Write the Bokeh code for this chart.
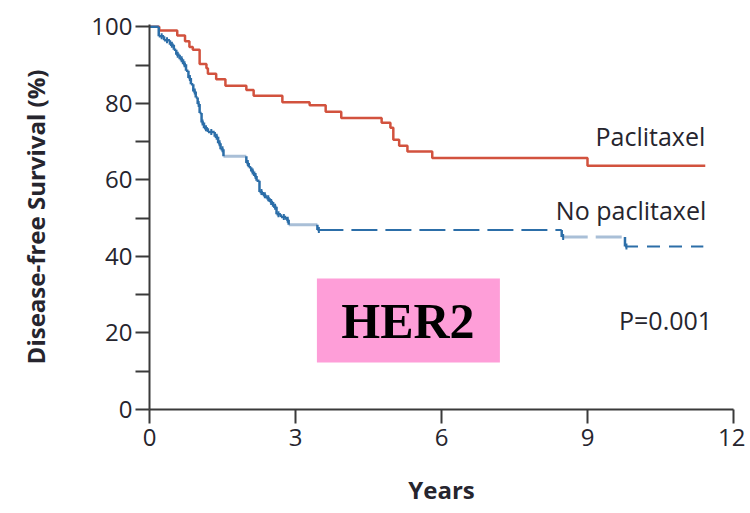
import numpy as np
from bokeh.plotting import figure
from bokeh.models import Range1d, FixedTicker, BoxAnnotation, ColumnDataSource
from bokeh.core.properties import value
from bokeh.embed import file_html
from bokeh.resources import INLINE

# ---- data ----
pac_t = [0, 0.2, 0.57, 0.73, 0.82, 0.89, 1.03, 1.17, 1.2, 1.37, 1.56, 1.99, 2.14,
         2.73, 3.29, 3.62, 3.94, 4.77, 4.95, 5.01, 5.13, 5.3, 5.81, 9.0]
pac_s = [100, 99.0, 97.7, 96.2, 94.7, 94.0, 90.3, 89.2, 87.7, 86.3, 84.6, 83.5, 82.0,
         80.3, 79.5, 77.8, 76.2, 74.9, 73.6, 70.5, 68.9, 67.4, 65.7, 63.7]
pac_end = 11.42

nopac_t = [0, 0.19, 0.3, 0.42, 0.5, 0.55, 0.62, 0.69, 0.75, 0.8, 0.85, 0.9, 0.95, 0.99,
           1.03, 1.07, 1.12, 1.2, 1.34, 1.41, 1.46, 1.52, 1.99, 2.04, 2.09, 2.15, 2.2,
           2.26, 2.33, 2.4, 2.47, 2.54, 2.61, 2.7, 2.81, 2.86, 3.45, 8.47, 9.77]
nopac_s = [100, 97.5, 96.5, 95.3, 94.0, 92.7, 91.5, 90.2, 88.5, 86.6, 85.0, 83.1, 81.5, 79.8,
           77.5, 75.0, 73.5, 72.5, 71.3, 69.6, 68.0, 66.2, 64.4, 63.3, 62.2, 61.0, 59.8,
           56.8, 56.0, 55.2, 54.2, 53.0, 51.0, 50.3, 49.6, 48.3, 46.9, 45.1, 42.6]
nopac_end = 11.38
nopac_censor = [0.25, 0.36, 0.46, 0.58, 0.66, 0.72, 0.83, 0.93, 1.01, 1.09, 1.16, 1.27,
                1.38, 1.44, 1.5, 2.02, 2.12, 2.18, 2.3, 2.37, 2.44, 2.5, 2.58, 2.65,
                2.76, 2.84, 3.48, 8.5, 9.8]

x_ticks = [0, 3, 6, 9, 12]
y_ticks = [0, 10, 20, 30, 40, 50, 60, 70, 80, 90, 100]

RED = "#d2523e"
BLUE = "#2c6ea8"
LIGHT = "#a9bfd7"
TXT = "#26252e"

p = figure(width=745, height=510, output_backend="svg", toolbar_location=None,
           x_range=Range1d(0, 12), y_range=Range1d(0, 100.6),
           min_border_left=149, min_border_right=12, min_border_top=24, min_border_bottom=101)
p.outline_line_color = None
p.xgrid.visible = False
p.ygrid.visible = False
p.background_fill_color = "white"
p.border_fill_color = "white"

# axes
for ax in (p.xaxis[0], p.yaxis[0]):
    ax.axis_line_color = "#3a3a3a"
    ax.axis_line_width = 2
    ax.major_tick_line_color = "#3a3a3a"
    ax.major_tick_line_width = 2
    ax.major_tick_in = 0
    ax.minor_tick_line_color = None
    ax.major_label_text_font = "Open Sans"
    ax.major_label_text_font_size = "24px"
    ax.major_label_text_color = TXT
    ax.axis_label_text_font = "Open Sans"
    ax.axis_label_text_font_style = "bold"
    ax.axis_label_text_font_size = "24px"
    ax.axis_label_text_color = TXT

p.xaxis.ticker = FixedTicker(ticks=x_ticks)
p.xaxis.major_tick_out = 14
p.xaxis.major_label_standoff = 5
p.xaxis.axis_label = "Years"
p.xaxis.axis_label_standoff = 24

p.yaxis.ticker = FixedTicker(ticks=y_ticks)
p.yaxis.major_label_overrides = {t: ("" if t % 20 else str(t)) for t in y_ticks}
p.yaxis.major_tick_out = 14
p.yaxis.major_label_standoff = 3
p.yaxis.axis_label = "Disease-free Survival (%)"
p.yaxis.axis_label_standoff = 36

# HER2 box
p.add_layout(BoxAnnotation(left=3.44, right=7.2, bottom=12.3, top=34.2,
                           fill_color="#fe9ed8", fill_alpha=1.0, line_color=None,
                           level="underlay"))

# Paclitaxel curve
px = pac_t + [pac_end]
py = pac_s + [pac_s[-1]]
p.step(px, py, mode="after", line_color=RED, line_width=2.5)

# No paclitaxel curve: segments by style
t = np.array(nopac_t, dtype=float)
s = np.array(nopac_s, dtype=float)
x1 = np.append(t[1:], nopac_end)

def idx(v):
    return int(np.argmin(np.abs(t - v)))

light_solid = {idx(1.52), idx(2.86)}
dark_dash = {idx(3.45)}
light_dash = {idx(8.47)}
short_dash = {idx(9.77)}

solid_i = [i for i in range(len(t)) if i not in light_solid | dark_dash | light_dash | short_dash]

def segs(ids, **kw):
    ids = list(ids)
    src = ColumnDataSource(dict(x0=t[ids], x1=x1[ids], y=s[ids]))
    p.segment(x0="x0", y0="y", x1="x1", y1="y", source=src, **kw)

segs(solid_i, line_color=BLUE, line_width=2.5)
segs(light_solid, line_color=LIGHT, line_width=3)
segs(dark_dash, line_color=BLUE, line_width=2, line_dash="26 8")
segs(light_dash, line_color=LIGHT, line_width=3, line_dash="26 8")
segs(short_dash, line_color=BLUE, line_width=2, line_dash="13 9")

# vertical drops
vsrc = ColumnDataSource(dict(x=t[1:], y0=s[:-1], y1=s[1:]))
p.segment(x0="x", y0="y0", x1="x", y1="y1", source=vsrc, line_color=BLUE, line_width=2.5)

# censor ticks
cens = np.array(nopac_censor)
cy = np.array([s[np.searchsorted(t, c, side="right") - 1] for c in cens])
p.scatter(cens, cy, marker="dash", angle=np.pi / 2, size=6, line_color=BLUE, line_width=2)

# labels
lab = dict(text_font=value("Open Sans"), text_font_size="25px", text_color=TXT,
           text_align="right", text_baseline="middle")
p.text(x=[11.42], y=[71.5], text=["Paclitaxel"], **lab)
p.text(x=[11.44], y=[52.0], text=["No paclitaxel"], **lab)
p.text(x=[11.56], y=[23.5], text=["P=0.001"], **lab)
p.text(x=[5.31], y=[23.0], text=["HER2"], text_font=value("Liberation Serif"),
       text_font_style="bold", text_font_size="50px", text_color="black",
       text_align="center", text_baseline="middle")

open("out.html", "w").write(file_html(p, INLINE))
